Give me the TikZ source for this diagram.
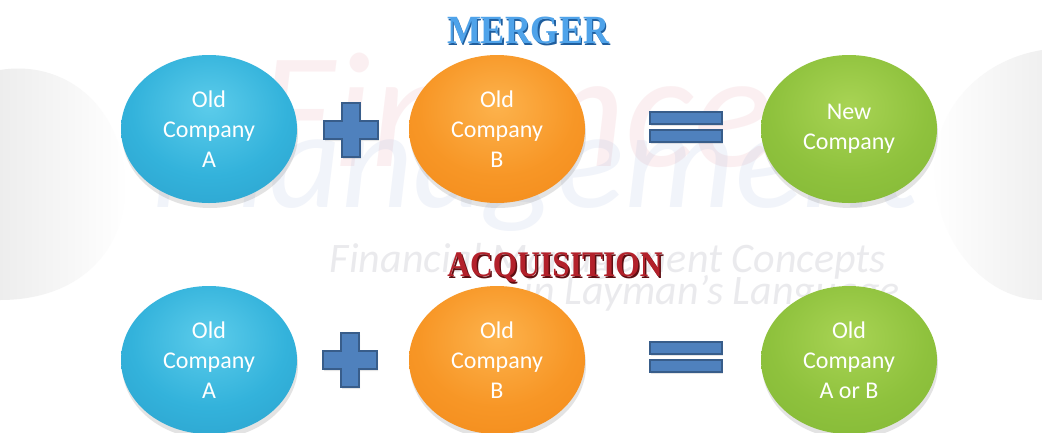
\documentclass[tikz,border=0pt]{standalone}
\usepackage{fontspec}
\setmainfont{Carlito}
\newfontfamily\titlefont{Liberation Serif}
\usetikzlibrary{shapes.geometric,shadows}

\definecolor{signblue}{HTML}{4F81BD}
\definecolor{signedge}{HTML}{385D8A}
\definecolor{mergerblue}{HTML}{4FA3EA}
\definecolor{mergershade}{HTML}{1F5E9E}
\definecolor{acqred}{HTML}{B3212B}
\definecolor{acqshade}{HTML}{5E0E12}
\definecolor{markpink}{HTML}{E58A96}
\definecolor{markblue}{HTML}{8FA6D8}
\definecolor{markgray}{HTML}{9A9AA8}

% bevelled fills for the three kinds of company
\pgfdeclareradialshading{bevelcyan}{\pgfpoint{0bp}{8bp}}{%
  rgb(0bp)=(0.36,0.80,0.92); rgb(22bp)=(0.20,0.70,0.86);
  rgb(40bp)=(0.17,0.63,0.80); rgb(50bp)=(0.09,0.46,0.64); rgb(100bp)=(0.09,0.46,0.64)}
\pgfdeclareradialshading{bevelorange}{\pgfpoint{0bp}{8bp}}{%
  rgb(0bp)=(0.99,0.70,0.30); rgb(22bp)=(0.97,0.59,0.15);
  rgb(40bp)=(0.95,0.54,0.10); rgb(50bp)=(0.80,0.42,0.05); rgb(100bp)=(0.80,0.42,0.05)}
\pgfdeclareradialshading{bevelgreen}{\pgfpoint{0bp}{8bp}}{%
  rgb(0bp)=(0.66,0.83,0.33); rgb(22bp)=(0.56,0.76,0.24);
  rgb(40bp)=(0.51,0.72,0.21); rgb(50bp)=(0.38,0.57,0.13); rgb(100bp)=(0.38,0.57,0.13)}

\tikzset{
  company/.style={ellipse, minimum width=176pt, minimum height=148pt, inner sep=0pt,
    text=white, align=center, font=\fontsize{24}{30}\selectfont,
    drop shadow={shadow xshift=1pt, shadow yshift=-5pt, opacity=0.22}},
  cyanco/.style={company, shade, shading=bevelcyan},
  orangeco/.style={company, shade, shading=bevelorange},
  greenco/.style={company, shade, shading=bevelgreen},
  signfill/.style={fill=signblue, draw=signedge, line width=1.2pt, line join=miter,
    drop shadow={shadow xshift=1pt, shadow yshift=-2pt, opacity=0.2}},
  pics/plussign/.style={code={
    \path[signfill] (-27,-9) -- (-9,-9) -- (-9,-27) -- (9,-27) -- (9,-9) -- (27,-9)
      -- (27,9) -- (9,9) -- (9,27) -- (-9,27) -- (-9,9) -- (-27,9) -- cycle;
  }},
  pics/equalsign/.style={code={
    \path[signfill] (-36,-15) rectangle (36,-3);
    \path[signfill] (-36,3) rectangle (36,15);
  }},
  watermark/.style={font=\itshape, inner sep=0pt},
}

\begin{document}
\begin{tikzpicture}[x=1pt,y=-1pt]
\useasboundingbox (0,0) rectangle (1042,432);
\fill[white] (0,0) rectangle (1042,432);

% faint backdrop shapes at the sides, fading towards the middle
\shade[left color=black!7, right color=white]
  (0,70) .. controls (60,60) and (120,100) .. (125,180)
  .. controls (128,250) and (80,300) .. (0,300) -- cycle;
\shade[left color=white, right color=black!6]
  (1042,50) .. controls (980,60) and (930,110) .. (935,180)
  .. controls (940,250) and (990,300) .. (1042,300) -- cycle;

% watermark lettering
\node[watermark, text=markpink, opacity=0.13, font=\itshape\fontsize{165}{165}\selectfont]
  (wmfinance) at (515,110) {Finance};
\node[watermark, text=markblue, opacity=0.12, font=\itshape\fontsize{140}{140}\selectfont]
  (wmmanage) at (535,175) {Management};
\node[watermark, text=markgray, opacity=0.2, font=\itshape\fontsize{42}{42}\selectfont]
  (wmconcepts) at (608,262) {Financial Management Concepts};
\node[watermark, text=markgray, opacity=0.2, font=\itshape\fontsize{42}{42}\selectfont]
  (wmlayman) at (712,294) {in Layman's Language};

% headings
\node[text=mergershade, font=\titlefont\bfseries\fontsize{40}{40}\selectfont, xscale=0.9]
  (mergershadow) at (529.5,32) {MERGER};
\node[text=mergerblue, font=\titlefont\bfseries\fontsize{40}{40}\selectfont, xscale=0.9]
  (merger) at (528,30) {MERGER};
\node[text=acqshade, font=\titlefont\bfseries\fontsize{36}{36}\selectfont, xscale=0.875]
  (acqshadow) at (556.5,269) {ACQUISITION};
\node[text=acqred, font=\titlefont\bfseries\fontsize{36}{36}\selectfont, xscale=0.875]
  (acquisition) at (555,267) {ACQUISITION};

% merger row
\node[cyanco] (ma) at (209,129) {Old\\Company\\A};
\pic (mplus) at (351,130) {plussign};
\node[orangeco] (mb) at (497,129) {Old\\Company\\B};
\pic (meq) at (686,127) {equalsign};
\node[greenco] (mnew) at (849,129) {New\\Company};

% acquisition row
\node[cyanco] (aa) at (209,360) {Old\\Company\\A};
\pic (aplus) at (350,360) {plussign};
\node[orangeco] (ab) at (497,360) {Old\\Company\\B};
\pic (aeq) at (686,357) {equalsign};
\node[greenco] (aold) at (849,360) {Old\\Company\\A or B};
\end{tikzpicture}
\end{document}
